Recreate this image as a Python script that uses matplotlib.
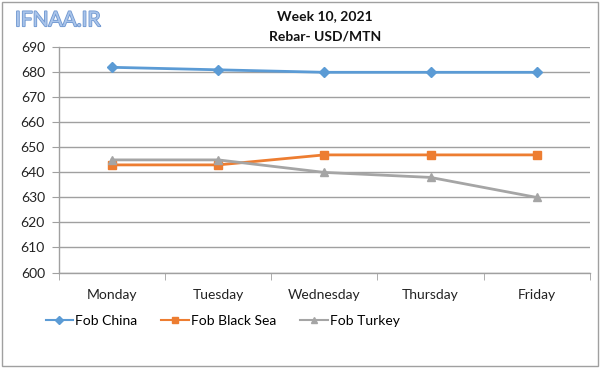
import matplotlib
matplotlib.use("Agg")
import matplotlib.pyplot as plt
import matplotlib.patheffects as pe
from matplotlib.patches import Rectangle
from matplotlib.lines import Line2D

days = ["Monday", "Tuesday", "Wednesday", "Thursday", "Friday"]
fob_china = [682, 681, 680, 680, 680]
fob_black_sea = [643, 643, 647, 647, 647]
fob_turkey = [645, 645, 640, 638, 630]
yticks = list(range(600, 691, 10))

plt.rcParams['font.family'] = ['Lato', 'DejaVu Sans']

fig = plt.figure(figsize=(6.0, 3.68), dpi=100)
fig.patch.set_facecolor("white")
fig.patches.append(Rectangle((0.004, 0.006), 0.992, 0.988, transform=fig.transFigure,
                             fill=False, edgecolor="#a0a0a0", linewidth=1.0))

ax = fig.add_axes([0.098, 0.2595, 0.885, 0.612])
x = list(range(len(days)))
colors = ["#5b9bd5", "#ed7d31", "#a5a5a5"]
ax.plot(x, fob_china, color=colors[0], lw=2, marker="D", ms=5)
ax.plot(x, fob_black_sea, color=colors[1], lw=2, marker="s", ms=6)
ax.plot(x, fob_turkey, color=colors[2], lw=2, marker="^", ms=6)

ax.set_xlim(-0.5, len(days) - 0.5)
ax.set_ylim(600, 690)
ax.set_yticks(yticks)
ax.set_yticklabels([str(v) for v in yticks], fontsize=10, color="#222222")
ax.set_xticks(x)
ax.set_xticklabels(days, fontsize=10, color="#222222")
ax.set_xticks([i + 0.5 for i in range(-1, len(days))], minor=True)
ax.tick_params(axis="x", which="major", length=0, pad=12)
ax.tick_params(axis="x", which="minor", length=5, color="#a0a0a0", direction="out")
ax.tick_params(axis="y", length=5, color="#a0a0a0", direction="out", pad=5)
ax.grid(axis="y", color="#a0a0a0", lw=1.0)
ax.set_axisbelow(True)
for s in ["top", "right"]:
    ax.spines[s].set_visible(False)
for s in ["left", "bottom"]:
    ax.spines[s].set_color("#a0a0a0")
    ax.spines[s].set_linewidth(1.0)

fig.text(0.542, 0.955, "Week 10, 2021", ha="center", va="center", fontsize=10, fontweight="bold", color="#111111")
fig.text(0.542, 0.9, "Rebar- USD/MTN", ha="center", va="center", fontsize=10, fontweight="bold", color="#111111")

fig.text(0.025, 0.945, "IFNAA.IR", ha="left", va="center", fontsize=15, color="#a9c4ea",
         path_effects=[pe.withStroke(linewidth=1.2, foreground="#6f97d0")])

handles = [
    Line2D([], [], color=colors[0], lw=1.5, marker="D", ms=4),
    Line2D([], [], color=colors[1], lw=1.5, marker="s", ms=5),
    Line2D([], [], color=colors[2], lw=1.5, marker="^", ms=5),
]
labels = ["Fob China", "Fob Black Sea", "Fob Turkey"]
fig.legend(handles, labels, loc="center left", bbox_to_anchor=(0.055, 0.128), ncol=3, frameon=False,
           fontsize=10, handlelength=2.0, handletextpad=0.15, columnspacing=1.7)

fig.savefig("out.png", dpi=100)
